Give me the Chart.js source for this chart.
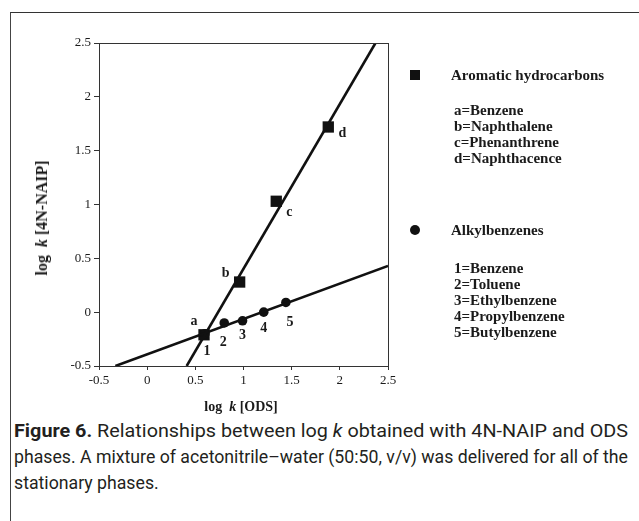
<!DOCTYPE html>
<html>
<head>
<meta charset="utf-8">
<script src="https://cdn.jsdelivr.net/npm/chart.js@4/dist/chart.umd.min.js"></script>
<style>
  html, body { margin: 0; padding: 0; background: #fff; }
  body { width: 639px; height: 521px; position: relative; overflow: hidden; }
  #frame { position: absolute; left: 10px; top: 12px; width: 640px; height: 520px;
           border-top: 1.5px solid #333; border-left: 1.5px solid #444; }
  #plot { position: absolute; left: 0; top: 0; }
  .serif { font-family: "Liberation Serif", "DejaVu Serif", serif; font-weight: bold; color: #1a1a1a; position: absolute; white-space: nowrap; }
  .leg { font-size: 15px; line-height: 16px; }
  .mark { position: absolute; background: #111; }
  #ytitle { font-size: 16px; transform: translate(-50%, -50%) rotate(-90deg); left: 42px; top: 218px; }
  #xtitle { font-size: 14px; transform: translate(-50%, -50%); left: 241px; top: 407px; }
  #caption { position: absolute; left: 14px; top: 418px; font-family: "Liberation Sans Narrow", Roboto, sans-serif;
             font-size: 18px; line-height: 26px; color: #231f20; }
  #caption .line { display: block; white-space: nowrap; transform-origin: 0 0; width: max-content; }
</style>
</head>
<body>
<div id="frame"></div>
<canvas id="plot" width="639" height="400"></canvas>

<div class="serif" id="ytitle">log&nbsp;&nbsp;<i>k</i> [4N-NAIP]</div>
<div class="serif" id="xtitle">log&nbsp;&nbsp;<i>k</i> [ODS]</div>

<div class="mark" style="left:410px; top:70px; width:10px; height:10px;"></div>
<div class="serif leg" style="left:451px; top:67px;">Aromatic hydrocarbons</div>
<div class="serif leg" style="left:454px; top:102px;">a=Benzene<br>b=Naphthalene<br>c=Phenanthrene<br>d=Naphthacence</div>

<div class="mark" style="left:410px; top:225px; width:10px; height:10px; border-radius:50%;"></div>
<div class="serif leg" style="left:451px; top:222px;">Alkylbenzenes</div>
<div class="serif leg" style="left:454px; top:260px;">1=Benzene<br>2=Toluene<br>3=Ethylbenzene<br>4=Propylbenzene<br>5=Butylbenzene</div>

<div id="caption">
  <span class="line fit"><b>Figure 6.</b> Relationships between log <i>k</i> obtained with 4N-NAIP and ODS</span>
  <span class="line fit">phases. A mixture of acetonitrile–water (50:50, v/v) was delivered for all of the</span>
  <span class="line">stationary phases.</span>
</div>

<script>
// aromatic hydrocarbons (squares)
const aromaticLabels = ['a', 'b', 'c', 'd'];
const aromaticX = [0.59, 0.96, 1.34, 1.88];
const aromaticY = [-0.21, 0.28, 1.03, 1.72];

// alkylbenzenes (circles)
const alkylLabels = ['1', '2', '3', '4', '5'];
const alkylX = [0.60, 0.80, 0.99, 1.21, 1.44];
const alkylY = [-0.20, -0.10, -0.08, 0.00, 0.09];

// fitted lines, end points
const aromaticFitX = [0.41, 2.37];
const aromaticFitY = [-0.5, 2.5];
const alkylFitX = [-0.33, 2.5];
const alkylFitY = [-0.5, 0.43];

// axis ticks
const xTicks = [-0.5, 0, 0.5, 1, 1.5, 2, 2.5];
const xTickLabels = ['-0.5', '0', '0.5', '1', '1.5', '2', '2.5'];
const yTicks = [-0.5, 0, 0.5, 1, 1.5, 2, 2.5];
const yTickLabels = ['-0.5', '0', '0.5', '1', '1.5', '2', '2.5'];

// label offsets in px (dx, dy) from each point
const aromaticOffsets = [[-10, -13], [-14, -9], [13, 11], [14, 6]];
const alkylOffsets = [[2, 18], [-1, 19], [0, 15], [0, 16], [4, 20]];

function pts(xs, ys) {
    return xs.map((x, i) => ({ x: x, y: ys[i] }));
}

const serif = '"Liberation Serif", "DejaVu Serif", serif';

const pointLabels = {
    id: 'pointLabels',
    afterDatasetsDraw(chart) {
        const ctx = chart.ctx;
        const a = chart.chartArea;
        const xs = chart.scales.x, ys = chart.scales.y;
        ctx.save();
        // box around plot
        ctx.strokeStyle = '#333';
        ctx.lineWidth = 1;
        ctx.strokeRect(a.left + 0.5, a.top + 0.5, a.width, a.height);
        ctx.fillStyle = '#1a1a1a';
        ctx.font = 'bold 14px ' + serif;
        ctx.textAlign = 'center';
        ctx.textBaseline = 'middle';
        aromaticLabels.forEach((t, i) => {
            ctx.fillText(t, xs.getPixelForValue(aromaticX[i]) + aromaticOffsets[i][0],
                            ys.getPixelForValue(aromaticY[i]) + aromaticOffsets[i][1]);
        });
        alkylLabels.forEach((t, i) => {
            ctx.fillText(t, xs.getPixelForValue(alkylX[i]) + alkylOffsets[i][0],
                            ys.getPixelForValue(alkylY[i]) + alkylOffsets[i][1]);
        });
        ctx.restore();
    }
};

new Chart(document.getElementById('plot'), {
    type: 'scatter',
    data: {
        datasets: [
            {
                type: 'line', data: pts(aromaticFitX, aromaticFitY),
                borderColor: '#111', borderWidth: 2.6, pointRadius: 0, fill: false
            },
            {
                type: 'line', data: pts(alkylFitX, alkylFitY),
                borderColor: '#111', borderWidth: 2.6, pointRadius: 0, fill: false
            },
            {
                data: pts(alkylX, alkylY), pointStyle: 'circle', pointRadius: 4.8,
                backgroundColor: '#111', borderColor: '#111', borderWidth: 0
            },
            {
                data: pts(aromaticX, aromaticY), pointStyle: 'rect', pointRadius: 8,
                backgroundColor: '#111', borderColor: '#111', borderWidth: 0
            }
        ]
    },
    options: {
        responsive: false,
        devicePixelRatio: 1,
        animation: false,
        events: [],
        layout: { padding: { left: 39, right: 251, top: 43, bottom: 4 } },
        plugins: { legend: { display: false }, tooltip: { enabled: false } },
        scales: {
            x: {
                type: 'linear', min: -0.5, max: 2.5,
                afterFit: s => { s.height = 30; },
                afterBuildTicks: s => { s.ticks = xTicks.map(v => ({ value: v })); },
                grid: { drawOnChartArea: false, drawTicks: true, tickLength: 4, color: '#333' },
                border: { color: '#333', width: 1 },
                ticks: { color: '#1a1a1a', font: { family: serif, size: 13 }, padding: 3, maxRotation: 0,
                         callback: (v, i) => xTickLabels[i] }
            },
            y: {
                type: 'linear', min: -0.5, max: 2.5,
                afterFit: s => { s.width = 60; },
                afterBuildTicks: s => { s.ticks = yTicks.map(v => ({ value: v })); },
                grid: { drawOnChartArea: false, drawTicks: true, tickLength: 5, color: '#333' },
                border: { color: '#333', width: 1 },
                ticks: { color: '#1a1a1a', font: { family: serif, size: 13 }, padding: 3,
                         callback: (v, i) => yTickLabels[i] }
            }
        }
    },
    plugins: [pointLabels]
});

// squeeze caption lines to the printed column width
const fitLines = document.querySelectorAll('#caption .line');
let k = 1;
fitLines.forEach(el => {
    if (el.classList.contains('fit')) {
        k = 614 / el.getBoundingClientRect().width;
    }
    el.style.transform = 'scaleX(' + k + ')';
});
</script>
</body>
</html>
